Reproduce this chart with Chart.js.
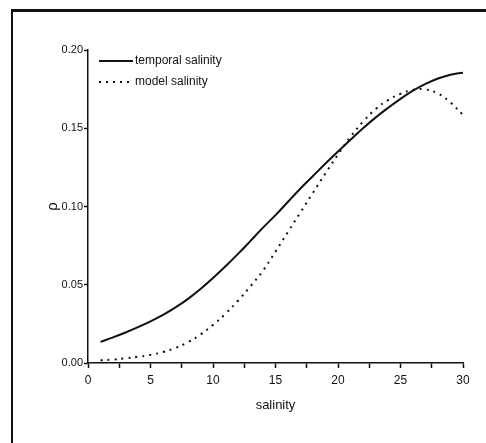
<!DOCTYPE html>
<html>
<head>
<meta charset="utf-8">
<script src="https://cdn.jsdelivr.net/npm/chart.js@4/dist/chart.umd.min.js"></script>
<style>
  html, body { margin: 0; padding: 0; background: #fff; overflow: hidden; }
  #wrap { position: relative; width: 486px; height: 443px; }
  #frame { position: absolute; left: 11px; top: 9px; width: 600px; height: 600px;
           border-left: 2px solid #111; border-top: 3px solid #111; }
  canvas { position: absolute; left: 0; top: 0; }
</style>
</head>
<body>
<div id="wrap">
  <div id="frame"></div>
  <canvas id="rhoChart" width="486" height="443"></canvas>
</div>
<script>
// salinity values along the x axis
const salinity = [1, 2, 3, 4, 5, 6, 7, 8, 9, 10, 11, 12, 13, 14, 15,
                  16, 17, 18, 19, 20, 21, 22, 23, 24, 25, 26, 27, 28, 29, 30];

// rho for the temporal salinity curve
const temporalRho = [0.0135, 0.0164, 0.0195, 0.0229, 0.0266, 0.0307, 0.0355, 0.0410, 0.0473, 0.0543,
                     0.0618, 0.0697, 0.0780, 0.0865, 0.0945, 0.1030, 0.1115, 0.1195, 0.1275, 0.1352,
                     0.1427, 0.1500, 0.1568, 0.1630, 0.1688, 0.1740, 0.1783, 0.1818, 0.1842, 0.1855];

// rho for the model salinity curve
const modelRho = [0.0017, 0.0022, 0.0030, 0.0040, 0.0052, 0.0070, 0.0096, 0.0133, 0.0182, 0.0243,
                  0.0315, 0.0398, 0.0490, 0.0590, 0.0712, 0.0838, 0.0963, 0.1088, 0.1212, 0.1332,
                  0.1445, 0.1542, 0.1622, 0.1680, 0.1720, 0.1745, 0.1748, 0.1722, 0.1665, 0.1585];

const yTicks = [0, 0.05, 0.10, 0.15, 0.20];

const FONT = "'Liberation Sans Narrow', 'Liberation Sans', Arial, sans-serif";
const INK = '#111';

const toPoints = (ys) => salinity.map((x, i) => ({ x: x, y: ys[i] }));

// legend drawn inside the plot, top-left, one row per dataset
const insideLegend = {
    id: 'insideLegend',
    afterDraw(chart) {
        const c = chart.ctx;
        const area = chart.chartArea;
        const x0 = area.left + 11;
        const lineLen = 34;
        chart.data.datasets.forEach((ds, i) => {
            const y = area.top + 11 + i * 21;
            c.save();
            c.strokeStyle = ds.borderColor;
            c.lineWidth = ds.borderWidth;
            c.setLineDash(ds.borderDash || []);
            c.beginPath();
            c.moveTo(x0, y);
            c.lineTo(x0 + lineLen, y);
            c.stroke();
            c.setLineDash([]);
            c.fillStyle = INK;
            c.font = '12px ' + FONT;
            c.textBaseline = 'middle';
            c.textAlign = 'left';
            c.fillText(ds.label, x0 + lineLen + 2, y);
            c.restore();
        });
    }
};

const ctx = document.getElementById('rhoChart').getContext('2d');
new Chart(ctx, {
    type: 'line',
    data: {
        datasets: [{
            label: 'temporal salinity',
            data: toPoints(temporalRho),
            borderColor: INK,
            backgroundColor: INK,
            borderWidth: 2,
            pointRadius: 0,
            tension: 0.4
        }, {
            label: 'model salinity',
            data: toPoints(modelRho),
            borderColor: INK,
            backgroundColor: INK,
            borderWidth: 2,
            borderDash: [2, 5],
            pointRadius: 0,
            tension: 0.4
        }]
    },
    options: {
        responsive: false,
        animation: false,
        layout: {
            padding: { left: 40, right: 23, top: 50, bottom: 0 }
        },
        scales: {
            x: {
                type: 'linear',
                min: 0,
                max: 30,
                afterFit: (scale) => { scale.height = 80; },
                ticks: {
                    stepSize: 2.5,
                    autoSkip: false,
                    maxRotation: 0,
                    padding: 5,
                    color: INK,
                    font: { family: FONT, size: 12 },
                    callback: (v) => (v % 5 === 0 ? String(v) : '')
                },
                grid: {
                    drawOnChartArea: false,
                    tickLength: 5,
                    tickColor: INK,
                    tickWidth: 1.5
                },
                border: { color: INK, width: 1.5 },
                title: {
                    display: true,
                    text: 'salinity',
                    color: INK,
                    font: { family: FONT, size: 13 },
                    padding: { top: 4, bottom: 30 }
                }
            },
            y: {
                min: 0,
                max: 0.2,
                afterFit: (scale) => { scale.width = 48; },
                afterBuildTicks: (scale) => { scale.ticks = yTicks.map(v => ({ value: v })); },
                ticks: {
                    padding: 1,
                    color: INK,
                    font: { family: FONT, size: 11 },
                    callback: (v) => v.toFixed(2)
                },
                grid: {
                    drawOnChartArea: false,
                    tickLength: 4,
                    tickColor: INK,
                    tickWidth: 1.5
                },
                border: { color: INK, width: 1.5 },
                title: {
                    display: true,
                    text: 'ρ',
                    color: INK,
                    font: { family: FONT, size: 15 },
                    padding: { top: 4, bottom: 0 }
                }
            }
        },
        plugins: {
            tooltip: { enabled: false },
            legend: { display: false }
        }
    },
    plugins: [insideLegend]
});
</script>
</body>
</html>
